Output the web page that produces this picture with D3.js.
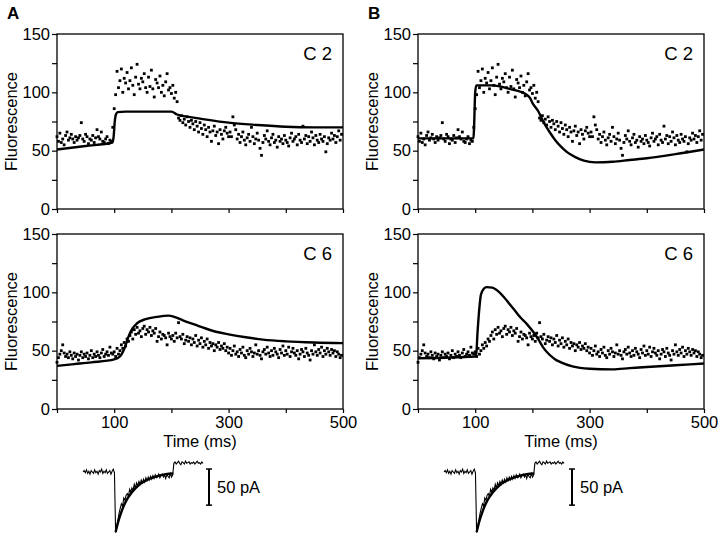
<!DOCTYPE html>
<html><head><meta charset="utf-8">
<script src="https://cdn.jsdelivr.net/npm/d3@7"></script>
<style>body{margin:0;background:#fff} svg{display:block}</style>
</head><body>
<svg id="c" width="720" height="537"></svg>
<script>
// ---------- DATA ----------
const sampleStep = 2.5; // ms between fluorescence samples
const c2Values = [
 62,58,65,57,60,55,63,66,59,61,64,60,57,62,59,61,63,74,60,58,64,62,56,60,59,63,57,61,68,62,60,66,58,57,60,62,56,59,58,70,
 86,98,118,104,110,120,100,112,108,117,103,110,121,106,98,113,124,107,103,112,109,116,104,100,113,105,119,103,96,111,108,104,114,100,106,97,109,116,102,104,99,106,95,100,92,
 78,76,80,74,77,72,79,75,70,76,73,68,75,71,66,74,69,64,72,68,62,70,66,58,67,71,63,66,56,68,64,60,67,70,65,62,
 66,62,79,72,68,60,64,57,62,66,59,55,61,64,58,70,62,56,60,65,59,52,46,57,63,60,67,58,55,61,64,57,59,53,62,58,60,56,63,59,57,54,61,65,58,60,62,55,64,59,57,71,60,63,56,62,58,66,61,55,63,59,57,64,60,58,62,49,56,61,59,65,60,63,57,62,67,59,64
];
const c6Values = [
 40,44,47,50,55,48,45,47,44,49,46,43,48,45,47,42,46,49,44,47,45,48,43,46,50,44,47,45,49,46,44,48,51,45,47,49,46,53,48,47,
 49,45,52,47,50,55,52,57,54,60,
 58,63,66,60,68,64,70,65,67,62,69,71,64,68,66,70,63,67,65,69,58,62,66,60,64,63,61,55,65,62,
 60,63,58,65,61,74,62,60,64,56,59,62,58,61,55,60,57,63,54,59,56,61,53,58,55,60,52,57,54,56,50,55,53,57,51,54,52,56,50,53,
 48,52,46,50,54,47,49,45,51,48,53,46,44,50,47,52,49,45,48,55,47,50,46,43,49,51,47,53,48,45,50,46,52,49,47,44,51,48,54,46,50,47,53,45,49,52,48,46,50,43,47,51,49,45,52,48,46,42,50,47,55,49,46,51,48,53,45,50,47,52,49,46,51,48,50,45,49,47,44,46
];
// model fits: [time ms, fluorescence]
const fitA_C2 = [[0,51],[50,54],[97,57],[99,62],[101,75],[103,81],[106,83],[120,83.5],[200,83.5],[210,81],[230,79],[250,77.5],[300,74],[350,72],[400,70.5],[450,70],[500,70]];
const fitB_C2 = [[0,60.5],[97,60.5],[98,70],[100,100],[102,106],[130,106],[160,103],[190,98],[196,95],[200,91],[210,84],[220,74],[230,66],[240,59],[250,53.5],[260,49],[275,44.5],[290,41.5],[310,40],[340,40.5],[370,42],[400,43.5],[450,47],[500,51]];
const fitA_C6 = [[0,37],[30,38.5],[60,40],[100,42.5],[110,45],[118,52],[125,62],[132,69],[140,73.5],[155,77],[175,79],[195,80],[205,79],[220,76],[240,72.5],[260,69],[280,66],[300,64],[330,61.5],[360,59.5],[400,58],[450,57],[500,56.5]];
const fitB_C6 = [[0,43.5],[100,45],[102,48],[104,65],[107,85],[110,98],[115,103],[120,104.5],[130,104],[140,101],[150,96],[160,90],[170,84],[180,78],[190,73],[200,67],[210,60],[220,52],[230,46.5],[240,42.5],[250,40],[270,36.5],[300,34.5],[340,34],[370,35],[400,36],[450,37.5],[500,39]];
// membrane current (pA), sampled every 2 ms
const traceStep = 2;
const currentValues = [
 0,2,-1,3,-2,1,-3,2,0,-2,3,-1,1,-3,2,0,4,-2,1,-1,3,-2,0,2,-3,1,4,-1,
 -84,-76,-66,-57,-50,-44,-47,-36,-39,-32,-30,-34,-24,-28,-22,-25,-17,-22,-15,-19,-13,-17,-11,-15,-10,-14,-8,-12,-7,-11,-6,-10,-5,-9,-4,-8,-7,-3,-8,-5,-3,-7,-4,-9,-3,-6,-8,-2,-7,-4,
 12,14,11,13,15,12,10,14,13,11,15,12,13,14,11,13,12,14,11,13,15,12,13,11,14,12
];
const currentFit = [[56,-83],[60,-70],[66,-55],[74,-40],[84,-28],[96,-18],[110,-11],[126,-6],[142,-3],[155,-2]];
const yTicks = [0,25,50,75,100,125,150];
const yLabels = [0,50,100,150];
const xTicks = [0,100,200,300,400,500];
const xLabels = [100,300,500];

// ---------- DRAW ----------
const svg = d3.select("#c");
const font = "'Liberation Sans', Arial, sans-serif";

const panels = [
  {col:0, row:0, data:c2Values, fit:fitA_C2, label:"C 2"},
  {col:0, row:1, data:c6Values, fit:fitA_C6, label:"C 6"},
  {col:1, row:0, data:c2Values, fit:fitB_C2, label:"C 2"},
  {col:1, row:1, data:c6Values, fit:fitB_C6, label:"C 6"},
];
const colX = [57, 418], plotW = 286;
const rowY = [34, 234], plotH = 175;

panels.forEach(p => {
  const x0 = colX[p.col], y0 = rowY[p.row];
  const x = d3.scaleLinear().domain([0,500]).range([x0, x0+plotW]);
  const y = d3.scaleLinear().domain([0,150]).range([y0+plotH, y0]);
  const g = svg.append("g");
  const ya = g.append("g").attr("transform",`translate(${x0},0)`)
    .call(d3.axisLeft(y).tickValues(yTicks).tickSize(5).tickPadding(2)
      .tickFormat(d => yLabels.includes(d) ? d : ""));
  const xa = g.append("g").attr("transform",`translate(0,${y0+plotH})`)
    .call(d3.axisBottom(x).tickValues(xTicks).tickSize(4).tickPadding(3)
      .tickFormat(d => (p.row===1 && xLabels.includes(d)) ? d : ""));
  [ya, xa].forEach(a => {
    a.select(".domain").remove();
    a.selectAll("line").attr("stroke","#000").attr("stroke-width",1.2);
    a.selectAll("text").attr("font-family",font).attr("font-size",16.5).attr("fill","#000");
  });
  g.append("rect").attr("x",x0).attr("y",y0).attr("width",plotW).attr("height",plotH)
    .attr("fill","none").attr("stroke","#000").attr("stroke-width",1.3);
  g.append("g").selectAll("rect").data(p.data).join("rect")
    .attr("x",(d,i)=>x(i*sampleStep)-1.4).attr("y",d=>y(d)-1.4)
    .attr("width",2.8).attr("height",2.8).attr("fill","#000");
  g.append("path").datum(p.fit)
    .attr("d", d3.line().x(d=>x(d[0])).y(d=>y(d[1])).curve(d3.curveMonotoneX))
    .attr("fill","none").attr("stroke","#000").attr("stroke-width",2.4);
  g.append("text").attr("x",x0+plotW-11).attr("y",y0+26).attr("text-anchor","end")
    .attr("font-family",font).attr("font-size",18.5).text(p.label);
  g.append("text").attr("transform",`translate(${x0-40},${y0+plotH/2}) rotate(-90)`)
    .attr("text-anchor","middle").attr("font-family",font).attr("font-size",16.5).text("Fluorescence");
  if (p.row===1) {
    g.append("text").attr("x",x0+plotW/2).attr("y",y0+plotH+38).attr("text-anchor","middle")
      .attr("font-family",font).attr("font-size",16.5).text("Time (ms)");
  }
});

svg.append("text").attr("x",7).attr("y",19).attr("font-family",font).attr("font-weight","bold").attr("font-size",17).text("A");
svg.append("text").attr("x",368).attr("y",19).attr("font-family",font).attr("font-weight","bold").attr("font-size",17).text("B");

[{x0:83, bar:209},{x0:444, bar:572}].forEach(t => {
  const tx = d3.scaleLinear().domain([0,206]).range([t.x0, t.x0+120]);
  const ty = d3.scaleLinear().domain([0,-83]).range([472, 532]);
  const g = svg.append("g");
  g.append("path").datum(currentValues)
    .attr("d", d3.line().x((d,i)=>tx(i*traceStep)).y(d=>ty(d)))
    .attr("fill","none").attr("stroke","#000").attr("stroke-width",1.1);
  g.append("path").datum(currentFit)
    .attr("d", d3.line().x(d=>tx(d[0])).y(d=>ty(d[1])).curve(d3.curveMonotoneX))
    .attr("fill","none").attr("stroke","#000").attr("stroke-width",2.4);
  const yb0 = ty(0)-3, yb1 = yb0 + (ty(-50)-ty(0));
  g.append("line").attr("x1",t.bar).attr("x2",t.bar).attr("y1",yb0).attr("y2",yb1).attr("stroke","#000").attr("stroke-width",2);
  [yb0,yb1].forEach(yy => g.append("line").attr("x1",t.bar-3).attr("x2",t.bar+3).attr("y1",yy).attr("y2",yy).attr("stroke","#000").attr("stroke-width",1.5));
  g.append("text").attr("x",t.bar+8).attr("y",(yb0+yb1)/2+6).attr("font-family",font).attr("font-size",16.5).text("50 pA");
});
</script>
</body></html>
